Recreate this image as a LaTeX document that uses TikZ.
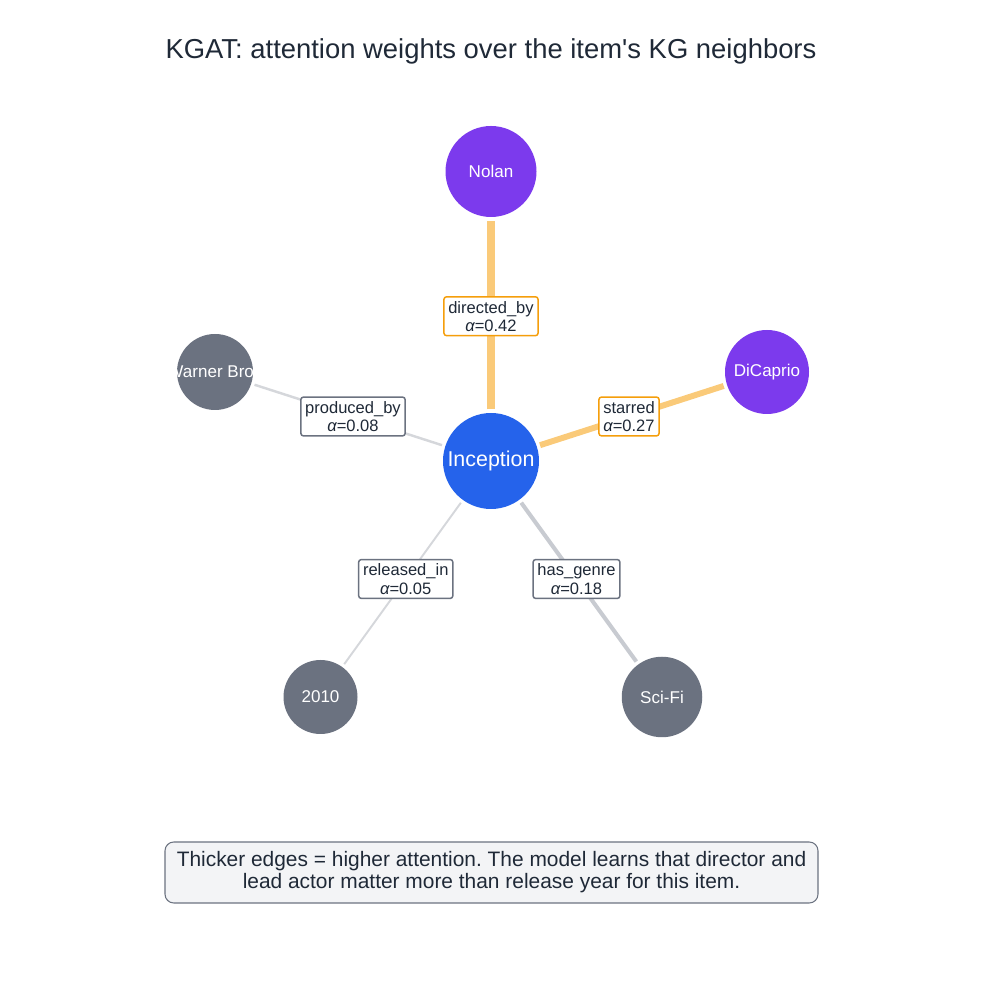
\documentclass[tikz,border=0pt]{standalone}
\usepackage{fontspec}
\setmainfont{Liberation Sans}
\usepackage{xcolor}
\usetikzlibrary{calc}
\definecolor{itemblue}{HTML}{2563EB}
\definecolor{personpurple}{HTML}{7C3AED}
\definecolor{attrgray}{HTML}{6B7280}
\definecolor{textdark}{HTML}{1F2937}
\definecolor{hiorange}{HTML}{F59E0B}
\definecolor{edgeorange}{HTML}{FACA79}
\definecolor{edgegray}{HTML}{C8CBD1}
\definecolor{edgelight}{HTML}{D5D7DB}
\definecolor{notefill}{HTML}{F3F4F6}
\frenchspacing

\begin{document}
\begin{tikzpicture}[
  ent/.style={circle, fill=#1, text=white, inner sep=0pt, outer sep=2pt, font=\fontsize{9.7}{11}\selectfont},
  rel/.style={draw=#1, fill=white, rounded corners=1.5pt, line width=0.85pt, text=textdark, align=center, inner xsep=2.5pt, inner ysep=2.4pt, font=\fontsize{9.4}{10.4}\selectfont}
]
% Canvas
\useasboundingbox (0,0) rectangle (19.64,19.98);

% Title
\node[anchor=base, text=textdark, font=\fontsize{15.6}{18}\selectfont] (title) at (9.82,18.81) {KGAT: attention weights over the item\textquotesingle s KG neighbors};

% Item and its KG neighbors
\node[ent=itemblue, minimum size=1.92cm, font=\fontsize{12.2}{14}\selectfont] (inception) at (9.82,10.76) {Inception};
\node[ent=personpurple, minimum size=1.82cm] (nolan) at (9.82,16.55) {Nolan};
\node[ent=personpurple, minimum size=1.68cm] (dicaprio) at (15.34,12.54) {DiCaprio};
\node[ent=attrgray, minimum size=1.52cm] (warner) at (4.30,12.54) {\makebox[0pt]{Warner Bros}};
\node[ent=attrgray, minimum size=1.48cm] (year) at (6.41,6.04) {2010};
\node[ent=attrgray, minimum size=1.61cm] (scifi) at (13.24,6.04) {Sci-Fi};

% Attention edges (width ~ alpha)
\draw[edgeorange, line width=4.5pt] (inception) -- (nolan);
\draw[edgeorange, line width=3.4pt] (inception) -- (dicaprio);
\draw[edgelight, line width=1.4pt] (inception) -- (warner);
\draw[edgelight, line width=1.1pt] (inception) -- (year);
\draw[edgegray, line width=2.3pt] (inception) -- (scifi);

% Edge labels
\node[rel=hiorange] (lnolan) at ($(inception)!0.5!(nolan)$) {directed\_by\\{\itshape α}=0.42};
\node[rel=hiorange] (ldicaprio) at ($(inception)!0.5!(dicaprio)$) {starred\\{\itshape α}=0.27};
\node[rel=attrgray] (lwarner) at ($(inception)!0.5!(warner)$) {produced\_by\\{\itshape α}=0.08};
\node[rel=attrgray] (lyear) at ($(inception)!0.5!(year)$) {released\_in\\{\itshape α}=0.05};
\node[rel=attrgray] (lscifi) at ($(inception)!0.5!(scifi)$) {has\_genre\\{\itshape α}=0.18};

% Note
\node[draw=attrgray, fill=notefill, rounded corners=5pt, line width=0.6pt, minimum width=13.06cm, minimum height=1.22cm, align=center, text=textdark, font=\fontsize{11.9}{12.6}\selectfont] (note) at (9.83,2.53) {Thicker edges = higher attention. The model learns that director and\\lead actor matter more than release year for this item.};
\end{tikzpicture}
\end{document}
